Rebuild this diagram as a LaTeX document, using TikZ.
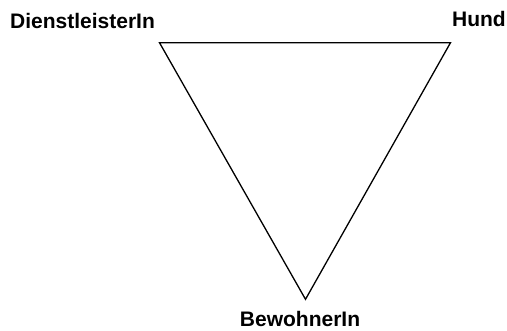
\documentclass[tikz,border=0pt]{standalone}
\usepackage{fontspec}
\setmainfont{Liberation Sans}
\begin{document}
\begin{tikzpicture}[x=1pt,y=1pt,
  lbl/.style={inner sep=0pt,font=\fontsize{21}{24}\selectfont\bfseries},
  edge/.style={line width=1.3pt,line join=miter}]
\useasboundingbox (0,0) rectangle (507,330);
\coordinate (d) at (159.5,287.3);
\coordinate (h) at (450.5,287.3);
\coordinate (b) at (305.5,30.7);
\draw[edge] (d) -- (h) -- (b) -- cycle;
\node[lbl,anchor=base west] (dl) at (10,301) {DienstleisterIn};
\node[lbl,anchor=base east] (hu) at (506,303) {Hund};
\node[lbl,anchor=base] (bw) at (300,3) {BewohnerIn};
\end{tikzpicture}
\end{document}
